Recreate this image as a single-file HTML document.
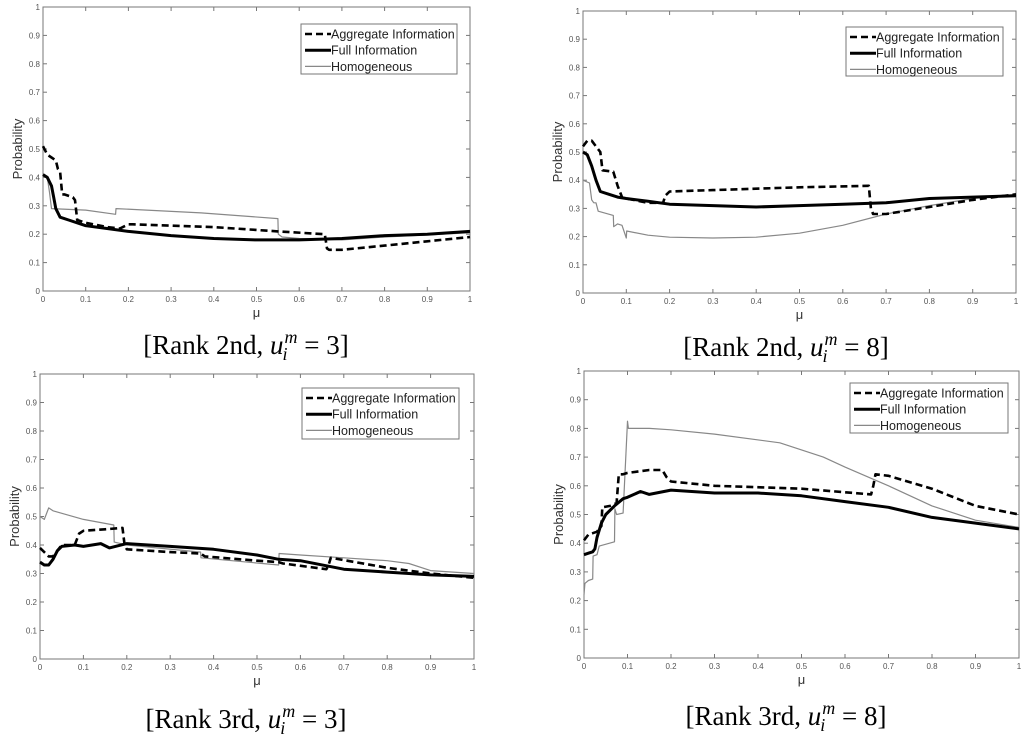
<!DOCTYPE html>
<html><head><meta charset="utf-8"><style>
body{margin:0;background:#fff;width:1024px;height:736px;overflow:hidden}
svg{display:block}
.cap{font-family:"Liberation Serif",serif;font-size:27px}
</style></head><body>
<svg id="c" width="1024" height="736"></svg>
<script>
const xTicks=[0,0.1,0.2,0.3,0.4,0.5,0.6,0.7,0.8,0.9,1];
const yTicks=[0,0.1,0.2,0.3,0.4,0.5,0.6,0.7,0.8,0.9,1];
const tickLabels=["0","0.1","0.2","0.3","0.4","0.5","0.6","0.7","0.8","0.9","1"];
// Panel A: Rank 2nd u=3
const aAggX=[0,0.01,0.02,0.03,0.035,0.04,0.045,0.05,0.07,0.075,0.08,0.1,0.15,0.18,0.2,0.21,0.4,0.55,0.66,0.665,0.67,0.7,0.8,0.9,1];
const aAggY=[0.51,0.48,0.47,0.46,0.43,0.42,0.34,0.34,0.33,0.32,0.25,0.24,0.225,0.22,0.235,0.235,0.225,0.21,0.2,0.15,0.145,0.145,0.16,0.175,0.19];
const aFullX=[0,0.01,0.02,0.025,0.03,0.04,0.06,0.1,0.15,0.2,0.3,0.4,0.5,0.6,0.7,0.8,0.9,1];
const aFullY=[0.41,0.4,0.37,0.33,0.29,0.26,0.25,0.23,0.22,0.21,0.195,0.185,0.18,0.18,0.185,0.195,0.2,0.21];
const aHomX=[0,0.01,0.015,0.02,0.1,0.17,0.171,0.37,0.55,0.551,0.56,0.6,0.7,0.8,1];
const aHomY=[0.41,0.4,0.35,0.29,0.285,0.27,0.29,0.275,0.255,0.2,0.19,0.185,0.18,0.19,0.205];
// Panel B: Rank 2nd u=8
const bAggX=[0,0.01,0.02,0.03,0.04,0.045,0.07,0.08,0.09,0.1,0.15,0.185,0.19,0.2,0.3,0.5,0.66,0.665,0.67,0.7,0.8,0.9,1];
const bAggY=[0.52,0.54,0.54,0.52,0.5,0.435,0.43,0.38,0.34,0.335,0.32,0.32,0.345,0.36,0.365,0.375,0.38,0.3,0.28,0.28,0.305,0.33,0.35];
const bFullX=[0,0.01,0.02,0.03,0.04,0.06,0.08,0.1,0.15,0.2,0.3,0.4,0.5,0.6,0.7,0.8,0.9,1];
const bFullY=[0.5,0.49,0.45,0.4,0.36,0.35,0.34,0.335,0.325,0.315,0.31,0.305,0.31,0.315,0.32,0.335,0.34,0.345];
const bHomX=[0,0.015,0.02,0.025,0.03,0.035,0.07,0.071,0.08,0.09,0.1,0.101,0.15,0.2,0.3,0.4,0.5,0.6,0.7,0.8,0.9,1];
const bHomY=[0.4,0.39,0.33,0.32,0.32,0.29,0.275,0.235,0.245,0.24,0.195,0.22,0.205,0.198,0.195,0.198,0.212,0.24,0.28,0.31,0.335,0.35];
// Panel C: Rank 3rd u=3
const cAggX=[0,0.02,0.03,0.04,0.05,0.08,0.09,0.1,0.15,0.19,0.195,0.2,0.3,0.37,0.38,0.5,0.55,0.56,0.66,0.665,0.67,0.8,0.9,1];
const cAggY=[0.39,0.36,0.36,0.38,0.4,0.4,0.44,0.45,0.455,0.46,0.4,0.385,0.375,0.37,0.36,0.345,0.34,0.335,0.315,0.33,0.355,0.32,0.3,0.285];
const cFullX=[0,0.01,0.02,0.03,0.04,0.05,0.08,0.1,0.12,0.14,0.16,0.2,0.3,0.4,0.5,0.55,0.6,0.7,0.8,0.9,1];
const cFullY=[0.34,0.33,0.33,0.35,0.38,0.395,0.4,0.395,0.4,0.405,0.39,0.405,0.395,0.385,0.365,0.35,0.345,0.315,0.305,0.295,0.29];
const cHomX=[0,0.01,0.02,0.03,0.1,0.17,0.171,0.2,0.37,0.371,0.55,0.551,0.6,0.7,0.8,0.85,0.9,1];
const cHomY=[0.5,0.49,0.53,0.52,0.49,0.47,0.41,0.4,0.375,0.355,0.33,0.37,0.365,0.355,0.345,0.335,0.31,0.3];
// Panel D: Rank 3rd u=8
const dAggX=[0,0.01,0.02,0.03,0.04,0.042,0.06,0.075,0.08,0.09,0.1,0.15,0.18,0.19,0.2,0.3,0.5,0.66,0.665,0.67,0.7,0.8,0.9,1];
const dAggY=[0.41,0.43,0.435,0.44,0.46,0.525,0.53,0.54,0.64,0.64,0.645,0.655,0.655,0.63,0.615,0.6,0.59,0.57,0.6,0.64,0.635,0.59,0.53,0.5];
const dFullX=[0,0.01,0.02,0.025,0.03,0.04,0.05,0.07,0.09,0.1,0.13,0.15,0.2,0.3,0.4,0.5,0.6,0.7,0.8,0.9,1];
const dFullY=[0.36,0.365,0.37,0.38,0.42,0.47,0.5,0.53,0.555,0.56,0.58,0.57,0.585,0.575,0.575,0.565,0.545,0.525,0.49,0.47,0.45];
const dHomX=[0,0.002,0.01,0.02,0.021,0.03,0.035,0.07,0.071,0.075,0.09,0.1,0.102,0.15,0.2,0.3,0.45,0.55,0.6,0.7,0.8,0.9,1];
const dHomY=[0.22,0.26,0.27,0.275,0.355,0.36,0.39,0.405,0.52,0.5,0.505,0.825,0.8,0.8,0.795,0.78,0.75,0.7,0.665,0.6,0.53,0.48,0.455];

const NS="http://www.w3.org/2000/svg";
const svg=document.getElementById('c');
function mk(tag,attrs,parent){const e=document.createElementNS(NS,tag);for(const k in attrs)e.setAttribute(k,attrs[k]);(parent||svg).appendChild(e);return e;}
function panel(id,x0,x1,yTop,yBot,leg,series,caption,capX,capY){
  const g=mk('g',{});
  
  
  const sx=v=>x0+v*(x1-x0), sy=v=>yBot-v*(yBot-yTop);
  const frame=mk('rect',{x:x0,y:yTop,width:x1-x0,height:yBot-yTop,fill:'#fff',stroke:'#777','stroke-width':1},g);
  
  
  xTicks.forEach((t,i)=>{
    const X=sx(t);
    mk('line',{x1:X,y1:yBot,x2:X,y2:yBot-4,stroke:'#777'},g);
    mk('line',{x1:X,y1:yTop,x2:X,y2:yTop+4,stroke:'#777'},g);
    const tx=mk('text',{x:X,y:yBot+11,'font-size':8,'text-anchor':'middle',fill:'#555','font-family':'Liberation Sans, sans-serif'},g);
    tx.textContent=tickLabels[i];
    
    
  });
  yTicks.forEach((t,i)=>{
    const Y=sy(t);
    mk('line',{x1:x0,y1:Y,x2:x0+4,y2:Y,stroke:'#777'},g);
    mk('line',{x1:x1,y1:Y,x2:x1-4,y2:Y,stroke:'#777'},g);
    const tx=mk('text',{x:x0-3,y:Y+3,'font-size':8,'text-anchor':'end',fill:'#555','font-family':'Liberation Sans, sans-serif'},g);
    tx.textContent=tickLabels[i];
    
    
  });
  const xl=mk('text',{x:(x0+x1)/2,y:yBot+26,'font-size':13,'text-anchor':'middle',fill:'#333','font-family':'Liberation Sans, sans-serif'},g);
  xl.textContent='μ';
  
  
  const yl=mk('text',{x:0,y:0,'font-size':13,'text-anchor':'middle',fill:'#333','font-family':'Liberation Sans, sans-serif',transform:`translate(${x0-21},${(yTop+yBot)/2}) rotate(-90)`},g);
  yl.textContent='Probability';
  
  
  const styles=[{stroke:'#000',w:2.6,dash:'7,4'},{stroke:'#000',w:3,dash:''},{stroke:'#888',w:1.2,dash:''}];
  const names=['aggregate-information-line','full-information-line','homogeneous-line'];
  [2,0,1].forEach(k=>{
    const s=series[k];
    const d=s[0].map((v,i)=>(i?'L':'M')+sx(v).toFixed(1)+','+sy(s[1][i]).toFixed(1)).join(' ');
    const p=mk('path',{d:d,fill:'none',stroke:styles[k].stroke,'stroke-width':styles[k].w,'stroke-dasharray':styles[k].dash,'stroke-linejoin':'round'},g);
    
    
  });
  const [lx,ly,lw,lh]=leg;
  const lg=mk('g',{},g);
  
  
  mk('rect',{x:lx,y:ly,width:lw,height:lh,fill:'#fff',stroke:'#777'},lg);
  const labels=['Aggregate Information','Full Information','Homogeneous'];
  labels.forEach((t,i)=>{
    const Y=ly+10+i*16.2;
    mk('line',{x1:lx+4,y1:Y,x2:lx+30,y2:Y,stroke:styles[i].stroke,'stroke-width':styles[i].w,'stroke-dasharray':styles[i].dash},lg);
    const tx=mk('text',{x:lx+30,y:Y+4.5,'font-size':12.5,fill:'#222','font-family':'Liberation Sans, sans-serif'},lg);
    tx.textContent=t;
    
    
  });
  const cap=mk('text',{x:capX,y:capY,'text-anchor':'middle','class':'cap',fill:'#000'},g);
  cap.innerHTML=caption;
  
  
}
const capA='[Rank 2nd, <tspan font-style="italic">u</tspan><tspan font-style="italic" font-size="18" dx="1" dy="-11">m</tspan><tspan font-style="italic" font-size="18" dx="-15" dy="17">i</tspan><tspan dy="-6" dx="10"> = 3]</tspan>';
const capB=capA.replace('= 3]','= 8]');
const capC=capA.replace('2nd','3rd');
const capD=capB.replace('2nd','3rd');
panel('chart-rank2-u3',43,470,7,291,[301,24,156,50],[[aAggX,aAggY],[aFullX,aFullY],[aHomX,aHomY]],capA,246,354);
panel('chart-rank2-u8',583,1016,11,293,[846,27,157,49],[[bAggX,bAggY],[bFullX,bFullY],[bHomX,bHomY]],capB,786,356);
panel('chart-rank3-u3',40,474,374,659,[302,388,157,51],[[cAggX,cAggY],[cFullX,cFullY],[cHomX,cHomY]],capC,246,728);
panel('chart-rank3-u8',584,1019,371,658,[850,383,158,50],[[dAggX,dAggY],[dFullX,dFullY],[dHomX,dHomY]],capD,786,725);
</script>
</body></html>
